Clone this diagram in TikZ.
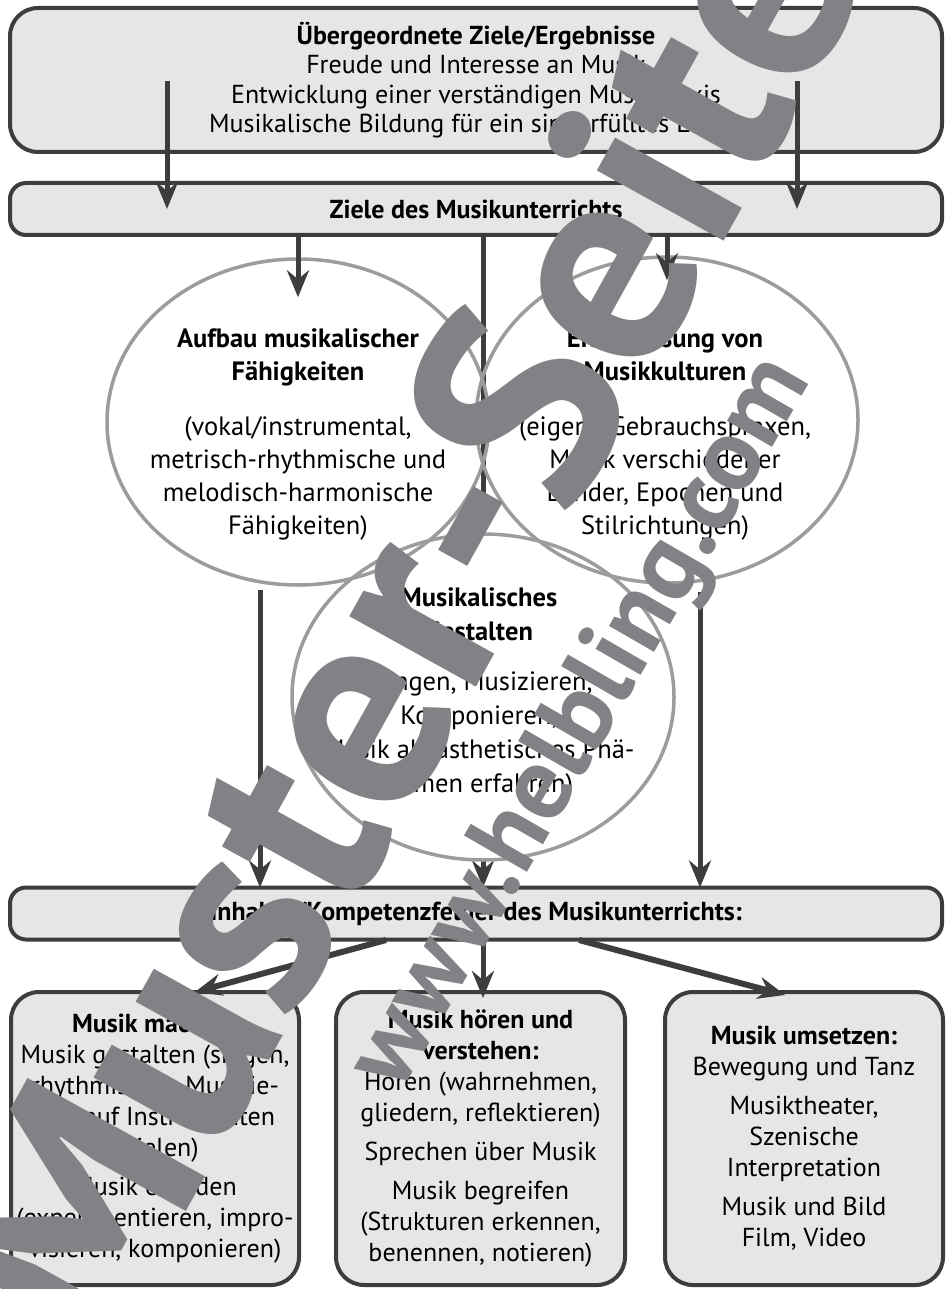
\documentclass[tikz,border=0pt]{standalone}
\usepackage{fontspec}
\setmainfont{PT Sans}
\usetikzlibrary{arrows.meta,shapes.geometric}
\definecolor{lineC}{HTML}{3D3D3D}
\definecolor{boxC}{HTML}{E6E6E6}
\definecolor{ellC}{HTML}{9C9C9C}
\definecolor{wmC}{HTML}{818285}
\newcommand{\dgtop}{\fontsize{26}{29.5}\selectfont}
\newcommand{\dgell}{\fontsize{26.5}{33}\selectfont}
\newcommand{\dgelllow}{\fontsize{26.5}{34}\selectfont}
\newcommand{\dgbox}{\fontsize{26}{31}\selectfont}
\begin{document}
\begin{tikzpicture}[x=1pt,y=-1pt,
  box/.style={draw=lineC, line width=4pt, fill=boxC, rounded corners=28pt, inner sep=0pt, align=center, font=\dgbox},
  bar/.style={draw=lineC, line width=4pt, fill=boxC, rounded corners=16pt, minimum width=932pt, minimum height=52pt, inner sep=0pt, font=\dgtop\bfseries},
  ell/.style={ellipse, draw=ellC, line width=3.5pt, minimum width=382pt, minimum height=326pt, inner sep=0pt},
  etext/.style={align=center, font=\dgell, inner sep=0pt},
  arr/.style={draw=lineC, line width=5pt, -{Stealth[length=27pt,width=22pt,inset=9pt]}},
  darr/.style={arr, line width=6pt},
  wm/.style={text=wmC, font=\fontsize{290}{290}\selectfont\bfseries, rotate=61, inner sep=0pt},
  wmsmall/.style={text=wmC, font=\fontsize{104}{104}\selectfont\bfseries, rotate=60, inner sep=0pt}
]
\useasboundingbox (0,0) rectangle (946,1289);
\fill[white] (0,0) rectangle (946,1289);
\clip (0,0) rectangle (946,1289);

% boxes and bars
\node[box, minimum width=932pt, minimum height=144pt, font=\dgtop] (top) at (476,80)
  {\textbf{Übergeordnete Ziele/Ergebnisse}\\ Freude und Interesse an Musik\\ Entwicklung einer verständigen Musikpraxis\\ Musikalische Bildung für ein sinnerfülltes Leben};
\node[bar] (z) at (476,209) {Ziele des Musikunterrichts};
\node[bar] (k) at (476,913.5) {Inhalts-/Kompetenzfelder des Musikunterrichts:};

% ellipses
\coordinate (mx) at (483,0);
\draw[arr] (mx |- z.south) -- ([yshift=-2pt]mx |- k.north);
\node[ell, draw=none, fill=white] (lo) at (483,697) {};
\node[ell] (le) at (298,422) {};
\node[ell] (re) at (667,420) {};
\node[ell] (lo2) at (483,697) {};

\node[etext] (let) at (298,434) {\textbf{Aufbau musikalischer}\\\textbf{Fähigkeiten}\\[22pt](vokal/instrumental,\\metrisch-rhythmische und\\melodisch-harmonische\\Fähigkeiten)};
\node[etext] (ret) at (665,434) {\textbf{Erschließung von}\\\textbf{Musikkulturen}\\[22pt](eigene Gebrauchspraxen,\\Musik verschiedener\\Länder, Epochen und\\Stilrichtungen)};
\node[etext, font=\dgelllow] (lot) at (479,693) {\textbf{Musikalisches}\\\textbf{Gestalten}\\[16pt](Singen, Musizieren,\\Komponieren,\\Musik als ästhetisches Phä-\\nomen erfahren)};

% bottom boxes
\node[box, minimum width=288pt, minimum height=293pt] (bl) at (155,1138.5)
  {\textbf{Musik machen:}\\ Musik gestalten (singen,\\ rhythmisches Musizie-\\ ren, auf Instrumenten\\ spielen)\\[8pt] Musik erfinden\\ (experimentieren, impro-\\ visieren, komponieren)};
\node[box, minimum width=289pt, minimum height=293pt] (bm) at (480.5,1138.5)
  {\textbf{Musik hören und}\\ \textbf{verstehen:}\\ Hören (wahrnehmen,\\ gliedern, reflektieren)\\[8pt] Sprechen über Musik\\[8pt] Musik begreifen\\ (Strukturen erkennen,\\ benennen, notieren)};
\node[box, minimum width=278pt, minimum height=293pt] (br) at (804,1138.5)
  {\textbf{Musik umsetzen:}\\ Bewegung und Tanz\\[8pt] Musiktheater,\\ Szenische\\ Interpretation\\[8pt] Musik und Bild\\ Film, Video};

% connectors
\coordinate (t1) at (167,81);
\coordinate (t2) at (797,81);
\draw[arr] (t1) -- (t1 |- z.center);
\draw[arr] (t2) -- (t2 |- z.center);
\draw[arr] (le.north |- z.south) -- ([yshift=-40pt]le.north);
\draw[arr] (re.north |- z.south) -- ([yshift=-25pt]re.north);
\coordinate (lv) at (260,590);
\coordinate (rv) at (700,592);
\draw[arr] (lv) -- ([yshift=-2pt]lv |- k.north);
\draw[arr] (rv) -- ([yshift=-2pt]rv |- k.north);
\coordinate (b1) at (386,940);
\coordinate (b3) at (579,940);
\coordinate (b1t) at (195,992);
\coordinate (b3t) at (785,995);
\draw[darr] (b1) -- (b1t);
\draw[arr] (mx |- k.south) -- ([yshift=-8pt]mx |- bm.north);
\draw[darr] (b3) -- (b3t);

% watermark
\node[wm] (wm1) at (398,620) {Muster-Seite};
\node[wmsmall] (wm2) at (583,724) {www.helbling.com};
\end{tikzpicture}
\end{document}
